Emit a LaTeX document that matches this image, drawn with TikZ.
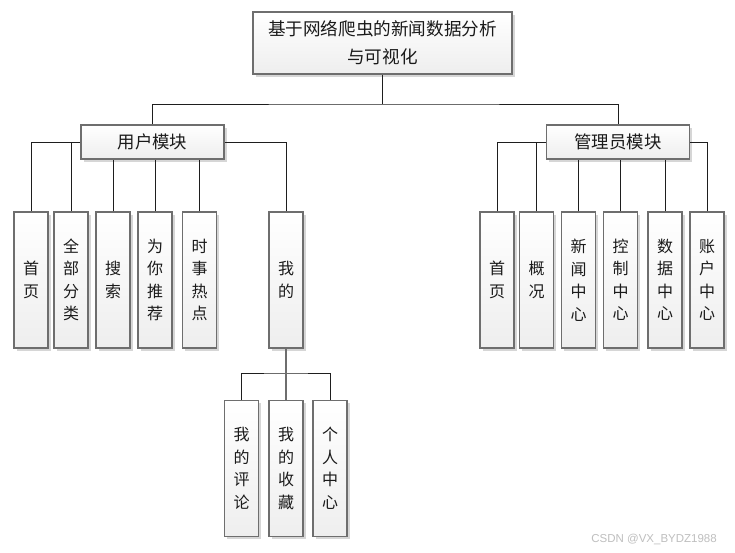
\documentclass[tikz,border=0pt]{standalone}
\usepackage{fontspec}
\newfontfamily\cjk{Noto Sans CJK SC}
\newfontfamily\wmfont{Liberation Sans}
\usetikzlibrary{shadows}
\definecolor{bordercol}{HTML}{6E6E6E}
\definecolor{boxbottom}{HTML}{EEEEEE}
\definecolor{shadowcol}{HTML}{D6D6D6}
\definecolor{txtcol}{HTML}{1A1A1A}
\definecolor{linecol}{HTML}{1E1E1E}
\tikzset{
  boxbase/.style={draw=bordercol, line width=1.4pt, top color=white, bottom color=boxbottom,
    drop shadow={shadow xshift=2.5pt, shadow yshift=-2.5pt, fill=shadowcol, opacity=1},
    inner sep=0pt, text=txtcol, align=center},
  titlebox/.style={boxbase, minimum width=259pt, minimum height=62pt,
    font=\cjk\fontsize{17.6}{28}\selectfont},
  modbox/.style={boxbase, minimum width=143pt, minimum height=34pt,
    font=\cjk\fontsize{17.4}{20}\selectfont},
  vbox/.style={boxbase, minimum width=34pt, minimum height=136pt,
    font=\cjk\fontsize{16}{22.5}\selectfont},
  conn/.style={draw=linecol, line width=0.9pt},
  grayconn/.style={draw=bordercol, line width=1.4pt},
}
\begin{document}
\begin{tikzpicture}[x=1pt,y=-1pt]
\fill[white] (0,0) rectangle (735,552);
\useasboundingbox (0,0) rectangle (735,552);

\node[titlebox] (top) at (382.5,43) {基于网络爬虫的新闻数据分析\\与可视化};
\node[modbox] (um) at (152.5,142) {用户模块};
\node[modbox] (am) at (618,142) {管理员模块};

% user children
\node[vbox] (u1) at (31,280) {首\\页};
\node[vbox] (u2) at (71,280) {全\\部\\分\\类};
\node[vbox] (u3) at (113,280) {搜\\索};
\node[vbox] (u4) at (155,280) {为\\你\\推\\荐};
\node[vbox] (u5) at (199.5,280) {时\\事\\热\\点};
\node[vbox] (u6) at (286,280) {我\\的};

% admin children
\node[vbox] (a1) at (497,280) {首\\页};
\node[vbox] (a2) at (536.5,280) {概\\况};
\node[vbox] (a3) at (578.5,280) {新\\闻\\中\\心};
\node[vbox] (a4) at (620.5,280) {控\\制\\中\\心};
\node[vbox] (a5) at (665,280) {数\\据\\中\\心};
\node[vbox] (a6) at (707,280) {账\\户\\中\\心};

% my sub
\node[vbox] (s1) at (241.5,468.5) {我\\的\\评\\论};
\node[vbox] (s2) at (286,468.5) {我\\的\\收\\藏};
\node[vbox] (s3) at (330,468.5) {个\\人\\中\\心};

\coordinate (thub) at (382.5,104);
\coordinate (mhub) at (286,373);

% connectors
\draw[conn] (top.south) -- (thub);
\draw[conn] (um.north) |- (thub) -| (am.north);

\draw[conn] (u1.north) |- (um.west);
\draw[conn] (u2.north) |- (um.west);
\draw[conn] (u3.north) -- (u3.north |- um.south);
\draw[conn] (u4.north) -- (u4.north |- um.south);
\draw[conn] (u5.north) -- (u5.north |- um.south);
\draw[conn] (u6.north) |- (um.east);

\draw[conn] (a1.north) |- (am.west);
\draw[conn] (a2.north) |- (am.west);
\draw[conn] (a3.north) -- (a3.north |- am.south);
\draw[conn] (a4.north) -- (a4.north |- am.south);
\draw[conn] (a5.north) -- (a5.north |- am.south);
\draw[conn] (a6.north) |- (am.east);

\draw[conn] (s1.north) |- (mhub) -| (s3.north);
\draw[grayconn] (u6.south) -- (mhub) -- (s2.north);

\node[font=\wmfont\fontsize{11.5}{13}\selectfont, text=black!25, anchor=east, inner sep=0pt] (wm) at (717,539) {CSDN @VX\_BYDZ1988};
\end{tikzpicture}
\end{document}
